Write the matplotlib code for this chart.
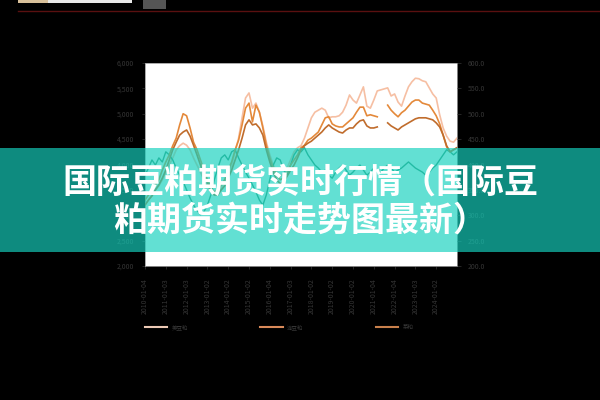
import numpy as np
import matplotlib
matplotlib.use("Agg")
import matplotlib.pyplot as plt
from matplotlib.patches import Rectangle
from matplotlib.lines import Line2D

plt.rcParams['font.family'] = ['Noto Sans CJK SC', 'DejaVu Sans']

# month index, one reading every two months
months = list(range(0, 182, 2))

nan = np.nan
light_vals = [320, 330, 340, 350, 358, 370, 385, 399, 413, 429,
              437, 442, 438, 429, 413, 399, 385, 370, 358, 346,
              340, 344, 354, 366, 379, 399, 425, 452, 492, 531,
              541, 511, 521, 503, 476, 444, 419, 399, 385, 377,
              381, 393, 409, 425, 433, 437, 452, 472, 492, 503,
              507, 511, 507, 492, 494, 494, 496, 503, 517, 537,
              527, 521, 537, 553, 515, 511, 527, 545, 547, 549,
              551, 535, 539, 523, 515, 535, 553, 563, 570, 569,
              565, 563, 551, 539, 531, 498, 472, 456, 446, 444, 452]
orange_vals = [330, 340, 350, 360, 370, 389, 405, 419, 437, 452,
               478, 500, 496, 472, 444, 429, 409, 389, 370, 354,
               346, 350, 360, 370, 389, 405, 429, 448, 478, 511,
               521, 484, 517, 503, 472, 438, 413, 393, 379, 370,
               373, 385, 399, 409, 419, 433, 438, 448, 452, 458,
               464, 478, 492, 494, 480, 476, 474, 474, 480, 486,
               492, 503, 513, 513, 496, 498, 496, 494, nan, nan,
               517, 507, 500, 494, 502, 507, 515, 523, 527, 527,
               521, 519, 517, 507, 496, 480, 458, 435, 425, 429, 433]
dark_vals = [320, 330, 338, 350, 360, 373, 389, 409, 429, 444,
             458, 464, 468, 456, 438, 419, 399, 379, 364, 350,
             340, 340, 350, 358, 373, 389, 409, 429, 452, 478,
             488, 478, 480, 472, 458, 429, 405, 385, 370, 362,
             366, 377, 389, 399, 413, 429, 437, 442, 446, 452,
             458, 464, 472, 478, 472, 468, 464, 462, 468, 472,
             472, 480, 486, 488, 476, 472, 472, 474, nan, nan,
             482, 476, 472, 468, 474, 478, 482, 486, 490, 492,
             492, 492, 490, 488, 482, 474, 458, 437, 425, 429, 433]
green_vals = [379, 393, 409, 399, 413, 405, 425, 419, 409, 393,
              379, 366, 350, 334, 320, 310, 301, 307, 320, 340,
              370, 393, 413, 419, 409, 425, 429, 413, 399, 385,
              373, 360, 346, 330, 320, 340, 370, 399, 413, 409,
              389, 379, 399, 419, 429, 425, 433, 419, 409, 399,
              393, 385, 389, 379, 373, 385, 393, 399, 389, 379,
              385, 393, 399, 389, 379, 385, 393, 389, 385, 393,
              399, 393, 385, 389, 393, 399, 405, 399, 393, 389,
              385, 379, 385, 393, 399, 409, 419, 429, 425, 419, 425]

left_ticks = [2000, 2500, 3000, 3500, 4000, 4500, 5000, 5500, 6000]
right_ticks = [200, 250, 300, 350, 400, 450, 500, 550, 600]
tick_months = list(range(0, 180, 12))
tick_labels = ["2010-01-04", "2011-01-03", "2012-01-03", "2013-01-02",
               "2014-01-02", "2015-01-02", "2016-01-04", "2017-01-03",
               "2018-01-02", "2019-01-02", "2020-01-02", "2021-01-04",
               "2022-01-04", "2023-01-03", "2024-01-02"]
series_names = ["美豆粕", "连豆粕", "菜粕"]

title_line1 = "国际豆粕期货实时行情（国际豆"
title_line2 = "粕期货实时走势图最新）"

fig = plt.figure(figsize=(6, 4), dpi=100, facecolor="black")

ax = fig.add_axes([145 / 600, 1 - 266 / 400, 312 / 600, 203 / 400])
ax.set_facecolor("white")
ax.set_xlim(0, 180)
ax.set_ylim(2000, 6000)
ax.set_yticks(left_ticks)
ax.set_yticklabels([f"{v:,}" for v in left_ticks])
ax.set_xticks(tick_months)
ax.set_xticklabels(tick_labels, rotation=90)
ax.tick_params(colors="#353535", labelsize=5, length=2, width=0.5, pad=6)
ax.tick_params(axis="x", pad=7)
for s in ax.spines.values():
    s.set_color("#9a9a9a")
    s.set_linewidth(0.6)

# price lines on the right-hand scale
ax2 = ax.twinx()
ax2.plot(months, light_vals, color="#f6bfa3", lw=1.2, zorder=2)
ax2.plot(months, green_vals, color="#3f9172", lw=1.0, zorder=3)
ax2.plot(months, orange_vals, color="#e4893a", lw=1.2, zorder=4)
ax2.plot(months, dark_vals, color="#c06c2c", lw=1.2, zorder=5)
ax2.set_ylim(200, 600)
ax2.set_yticks(right_ticks)
ax2.set_yticklabels([f"{v:.1f}" for v in right_ticks])
ax2.tick_params(colors="#353535", labelsize=5, length=3, width=0.5, pad=5)
for s in ax2.spines.values():
    s.set_visible(False)

handles = [Line2D([], [], color=c, lw=1.5) for c in ["#ecc9b5", "#d98a5a", "#c8804c"]]
fig.legend(handles, series_names, loc="center left",
           bbox_to_anchor=(140 / 600, 1 - 327 / 400), ncol=3, frameon=False,
           fontsize=4, handlelength=4, handletextpad=0.8, columnspacing=13,
           labelcolor="#353535")

# header strip
fig.add_artist(Rectangle((18 / 600, 1 - 3 / 400), 114 / 600, 3 / 400,
                         transform=fig.transFigure, color="#e8e8e8", lw=0))
fig.add_artist(Rectangle((18 / 600, 1 - 3 / 400), 30 / 600, 3 / 400,
                         transform=fig.transFigure, color="#d8c09a", lw=0))
fig.add_artist(Rectangle((143 / 600, 1 - 9 / 400), 23 / 600, 9 / 400,
                         transform=fig.transFigure, color="#555555", lw=0))
fig.add_artist(Line2D([18 / 600, 1], [1 - 10.5 / 400, 1 - 10.5 / 400],
                      transform=fig.transFigure, color="#5a1010", lw=1))

# translucent banner with title
fig.add_artist(Rectangle((0, 1 - 252 / 400), 1, 104 / 400,
                         transform=fig.transFigure, color="#15d1be",
                         alpha=0.67, lw=0, zorder=10))
fig.text(0.5, 1 - 182 / 400, title_line1, color="white", fontsize=24.5,
         fontweight="bold", ha="center", va="center", zorder=11)
fig.text(0.5, 1 - 220 / 400, title_line2, color="white", fontsize=24.5,
         fontweight="bold", ha="center", va="center", zorder=11)

fig.savefig("out.png", dpi=100, facecolor="black")
